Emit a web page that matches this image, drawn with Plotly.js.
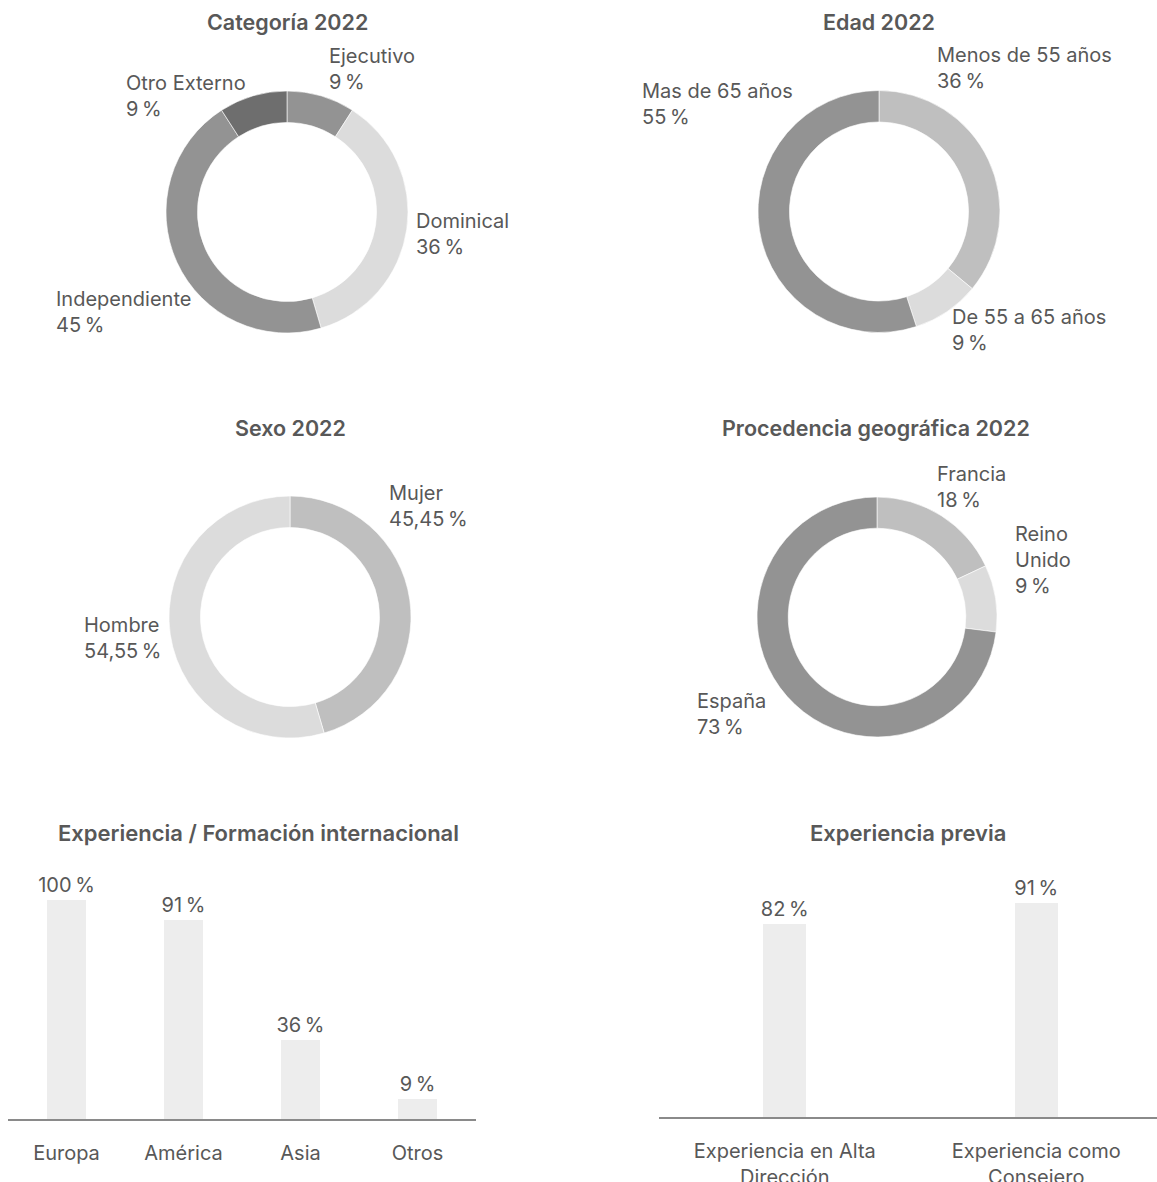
<!DOCTYPE html>
<html>
<head>
<meta charset="utf-8">
<script src="https://cdn.plot.ly/plotly-3.0.1.min.js"></script>
<style>
  html, body { margin: 0; padding: 0; background: #ffffff; }
  #chart { width: 1157px; height: 1182px; }
</style>
</head>
<body>
<div id="chart"></div>
<script>
// ---------- DATA ----------
const catLabels = ['Ejecutivo', 'Dominical', 'Independiente', 'Otro Externo'];
const catValues = [9, 36, 45, 9];

const edadLabels = ['Menos de 55 años', 'De 55 a 65 años', 'Mas de 65 años'];
const edadValues = [36, 9, 55];

const sexoLabels = ['Mujer', 'Hombre'];
const sexoValues = [45.45, 54.55];

const geoLabels = ['Francia', 'Reino<br>Unido', 'España'];
const geoValues = [18, 9, 73];

const intlCategories = ['Europa', 'América', 'Asia', 'Otros'];
const intlValues = [100, 91, 36, 9];

const prevCategories = ['Experiencia en Alta<br>Dirección', 'Experiencia como<br>Consejero'];
const prevValues = [82, 91];

const titles = ['Categoría 2022', 'Edad 2022', 'Sexo 2022', 'Procedencia geográfica 2022',
                'Experiencia / Formación internacional', 'Experiencia previa'];

// ---------- STYLE / LAYOUT HELPERS ----------
const W = 1157, H = 1182;
const px = x => x / W;
const py = y => 1 - y / H;
const FONT = 'Inter, "Open Sans", sans-serif';
const TXT = '#585858';
const FS = 20;
const PCT = '\u202F%';

const catColors  = ['#939393', '#dcdcdc', '#939393', '#6e6e6e'];
const edadColors = ['#bfbfbf', '#dcdcdc', '#939393'];
const sexoColors = ['#bfbfbf', '#dcdcdc'];
const geoColors  = ['#bfbfbf', '#dcdcdc', '#939393'];
const barColor = '#ededed';

// donut geometry (center x, center y, radius) in pixels
const donutGeom = [[287, 212, 121], [879, 211.5, 121], [290, 617, 121], [877, 617, 120]];
// label anchor (left x, first baseline y) in pixels
const catLabelPos  = [[328, 63], [415, 228], [55, 306], [125, 90]];
const edadLabelPos = [[936, 62], [951, 324], [641, 98]];
const sexoLabelPos = [[388, 500], [83, 632]];
const geoLabelPos  = [[936, 481], [1014, 541], [696, 708]];
const titlePos = [[287, 37], [879, 37], [290, 443], [876, 443], [258, 848], [908, 848]];

function fmt(v) { return String(v).replace('.', ',') + PCT; }

function donut(values, labels, colors, g) {
  const [cx, cy, r] = g;
  return {
    type: 'pie', values: values, labels: labels,
    hole: 0.74, sort: false, direction: 'clockwise', rotation: 0,
    textinfo: 'none', hoverinfo: 'label+percent', showlegend: false,
    marker: { colors: colors, line: { color: '#ffffff', width: 0.6 } },
    domain: { x: [px(cx - r), px(cx + r)], y: [py(cy + r), py(cy - r)] }
  };
}

const traces = [
  donut(catValues, catLabels, catColors, donutGeom[0]),
  donut(edadValues, edadLabels, edadColors, donutGeom[1]),
  donut(sexoValues, sexoLabels, sexoColors, donutGeom[2]),
  donut(geoValues, geoLabels, geoColors, donutGeom[3]),
  {
    type: 'bar', x: intlCategories, y: intlValues, xaxis: 'x', yaxis: 'y',
    marker: { color: barColor }, width: 0.34,
    text: intlValues.map(v => v + PCT), textposition: 'outside', cliponaxis: false,
    constraintext: 'none',
    textfont: { family: FONT, size: FS, color: TXT }, hoverinfo: 'x+y', showlegend: false
  },
  {
    type: 'bar', x: prevCategories, y: prevValues, xaxis: 'x2', yaxis: 'y2',
    marker: { color: barColor }, width: 0.17,
    text: prevValues.map(v => v + PCT), textposition: 'outside', cliponaxis: false,
    constraintext: 'none',
    textfont: { family: FONT, size: FS, color: TXT }, hoverinfo: 'x+y', showlegend: false
  }
];

const annotations = [];
titles.forEach((t, i) => {
  annotations.push({
    text: t, xref: 'paper', yref: 'paper', x: px(titlePos[i][0]), y: py(titlePos[i][1]),
    xanchor: 'center', yanchor: 'bottom', showarrow: false,
    font: { family: FONT, size: i >= 4 ? 22 : 21.5, color: TXT, weight: 600 }
  });
});
function addLabels(labels, values, pos) {
  labels.forEach((l, i) => {
    annotations.push({
      text: l + '<br>' + fmt(values[i]), xref: 'paper', yref: 'paper',
      x: px(pos[i][0]), y: py(pos[i][1] - 20), xanchor: 'left', yanchor: 'top',
      align: 'left', showarrow: false, borderpad: 0,
      font: { family: FONT, size: FS, color: TXT }
    });
  });
}
addLabels(catLabels, catValues, catLabelPos);
addLabels(edadLabels, edadValues, edadLabelPos);
addLabels(sexoLabels, sexoValues, sexoLabelPos);
addLabels(geoLabels, geoValues, geoLabelPos);

const axisCommon = {
  showgrid: false, zeroline: false, ticks: '', fixedrange: true
};

const layout = {
  width: W, height: H,
  margin: { l: 0, r: 0, t: 0, b: 0 },
  paper_bgcolor: '#ffffff', plot_bgcolor: '#ffffff',
  font: { family: FONT, color: TXT, size: FS },
  showlegend: false,
  bargap: 0,
  xaxis: Object.assign({}, axisCommon, {
    domain: [px(8), px(476)], anchor: 'y', type: 'category',
    showline: true, linecolor: '#8a8a8a', linewidth: 2,
    tickfont: { family: FONT, size: FS, color: TXT }, ticklabelstandoff: 15
  }),
  yaxis: Object.assign({}, axisCommon, {
    domain: [py(1119), py(880)], anchor: 'x', range: [0, 109.1],
    showticklabels: false, showline: false
  }),
  xaxis2: Object.assign({}, axisCommon, {
    domain: [px(659), 1], anchor: 'y2', type: 'category', range: [-0.5, 1.48],
    showline: true, linecolor: '#8a8a8a', linewidth: 2,
    tickfont: { family: FONT, size: FS, color: TXT }, ticklabelstandoff: 15
  }),
  yaxis2: Object.assign({}, axisCommon, {
    domain: [py(1117), py(880)], anchor: 'x2', range: [0, 100.85],
    showticklabels: false, showline: false
  }),
  annotations: annotations
};

Plotly.newPlot('chart', traces, layout, { displayModeBar: false, staticPlot: true });
</script>
</body>
</html>
